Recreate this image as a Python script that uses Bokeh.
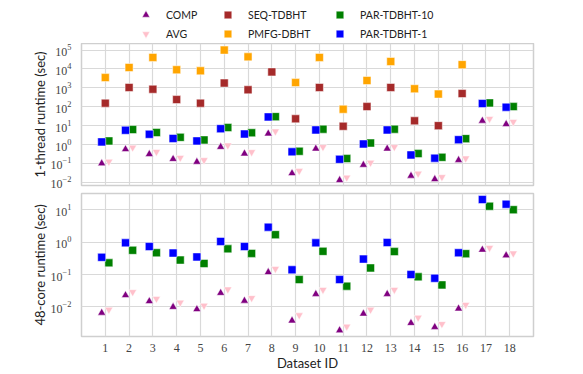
from bokeh.plotting import figure
from bokeh.layouts import column
from bokeh.models import (ColumnDataSource, Range1d, FixedTicker, LogTickFormatter,
                          Legend, LegendItem)
from bokeh.transform import dodge
from bokeh.embed import file_html
from bokeh.resources import INLINE

nan = float("nan")

dataset_ids = list(range(1, 19))

# 1-thread runtimes (sec)
comp_1t = [0.10, 0.56, 0.31, 0.17, 0.12, 0.74, 0.33, 3.8, 0.030, 0.60, 0.013, 0.083, 0.60, 0.022, 0.0145, 0.15, 18, 12]
avg_1t = [0.125, 0.70, 0.41, 0.20, 0.15, 0.90, 0.40, 5.0, 0.040, 0.74, 0.018, 0.11, 0.74, 0.029, 0.019, 0.185, 23, 16]
seq_tdbht_1t = [155, 1050, 850, 240, 155, 1800, 790, 7000, 23, 1050, 9.3, 102, 1050, 18, 10, 500, nan, nan]
pmfg_dbht_1t = [3500, 12000, 41000, 9100, 8000, 100000, 44000, nan, 1900, 41000, 74, 2450, 25000, 900, 470, 17000, nan, nan]
par_tdbht_10_1t = [1.55, 6.2, 4.3, 2.4, 1.75, 7.9, 4.2, 30, 0.44, 6.5, 0.18, 1.2, 6.5, 0.33, 0.21, 2.05, 160, 102]
par_tdbht_1_1t = [1.38, 5.7, 3.5, 2.1, 1.55, 6.9, 3.6, 29, 0.41, 5.9, 0.165, 1.07, 5.9, 0.28, 0.19, 1.8, 148, 95]

# 48-core runtimes (sec)
comp_48 = [0.0066, 0.023, 0.015, 0.010, 0.0085, 0.027, 0.0155, 0.118, 0.0038, 0.025, 0.0019, 0.0062, 0.025, 0.0032, 0.0024, 0.0089, 0.58, 0.39]
avg_48 = [0.0083, 0.029, 0.018, 0.0138, 0.011, 0.035, 0.019, 0.15, 0.0056, 0.034, 0.0025, 0.0083, 0.034, 0.0047, 0.0030, 0.0117, 0.67, 0.45]
par_tdbht_10_48 = [0.23, 0.56, 0.47, 0.28, 0.22, 0.62, 0.45, 1.7, 0.070, 0.52, 0.044, 0.16, 0.51, 0.085, 0.048, 0.44, 12.8, 10]
par_tdbht_1_48 = [0.34, 0.95, 0.73, 0.46, 0.35, 1.05, 0.73, 2.9, 0.14, 0.95, 0.070, 0.30, 0.97, 0.10, 0.077, 0.47, 20.6, 14.8]

top_ticks = [1e-2, 1e-1, 1e0, 1e1, 1e2, 1e3, 1e4, 1e5]
bottom_ticks = [1e-2, 1e-1, 1e0, 1e1]

series_names = ["COMP", "AVG", "SEQ-TDBHT", "PMFG-DBHT", "PAR-TDBHT-10", "PAR-TDBHT-1"]

src1 = ColumnDataSource(dict(id=dataset_ids, comp=comp_1t, avg=avg_1t, seq=seq_tdbht_1t,
                             pmfg=pmfg_dbht_1t, p10=par_tdbht_10_1t, p1=par_tdbht_1_1t))
src2 = ColumnDataSource(dict(id=dataset_ids, comp=comp_48, avg=avg_48,
                             p10=par_tdbht_10_48, p1=par_tdbht_1_48))

x_range = Range1d(0, 19)
TICK_FONT = "Liberation Serif"
LABEL_FONT = "Lato"
GRID = "#d9d9d9"
OUTLINE = "#cfcfcf"
LEFT = 81
RIGHT = 40

STYLES = {
    "comp": dict(marker="triangle", size=8, fill_color="purple"),
    "avg": dict(marker="inverted_triangle", size=8, fill_color="pink"),
    "seq": dict(marker="square", size=8, fill_color="brown"),
    "pmfg": dict(marker="square", size=8, fill_color="orange"),
    "p10": dict(marker="square", size=8, fill_color="green"),
    "p1": dict(marker="square", size=8, fill_color="blue"),
}
OFFSETS = {"comp": -0.15, "avg": 0.15, "seq": 0.0, "pmfg": 0.0, "p10": 0.15, "p1": -0.15}


def style(p, ticks, ylabel):
    p.outline_line_color = OUTLINE
    p.outline_line_width = 1.5
    p.background_fill_color = "white"
    p.border_fill_color = "white"
    p.xgrid.ticker = FixedTicker(ticks=dataset_ids)
    p.xgrid.grid_line_color = GRID
    p.ygrid.grid_line_color = GRID
    p.xgrid.grid_line_width = 1.2
    p.ygrid.grid_line_width = 1.2
    ya = p.yaxis[0]
    ya.ticker = FixedTicker(ticks=ticks)
    ya.formatter = LogTickFormatter()
    ya.axis_line_color = None
    ya.major_tick_line_color = None
    ya.minor_tick_line_color = None
    ya.major_label_text_font = TICK_FONT
    ya.major_label_text_font_size = "12px"
    ya.major_label_text_color = "#444444"
    ya.major_label_standoff = 4
    ya.axis_label = ylabel
    ya.axis_label_text_font = LABEL_FONT
    ya.axis_label_text_font_style = "normal"
    ya.axis_label_text_font_size = "13px"
    ya.axis_label_text_color = "#222222"
    ya.axis_label_standoff = 0


def markers(p, src, keys):
    for k in keys:
        p.scatter(dodge("id", OFFSETS[k], range=x_range), k, source=src,
                  line_color="white", line_width=0.5, **STYLES[k])


# ---- legend strip ----
lf = figure(frame_width=452, height=43, x_range=Range1d(0, 1), y_range=Range1d(0, 1),
            x_axis_location=None, y_axis_location=None, toolbar_location=None,
            output_backend="svg", min_border_left=LEFT, min_border_right=RIGHT,
            min_border_top=0, min_border_bottom=0)
lf.outline_line_color = None
lf.xgrid.visible = False
lf.ygrid.visible = False
legend_keys = ["comp", "avg", "seq", "pmfg", "p10", "p1"]
lrs = {}
for k in legend_keys:
    lrs[k] = lf.scatter([-5], [-5], line_color="white", line_width=0.5, **STYLES[k])

legend_groups = [(0, 1), (2, 3), (4, 5)]
legend_x = [55, 137, 249]
for grp, lx in zip(legend_groups, legend_x):
    lg = Legend(items=[LegendItem(label=series_names[i], renderers=[lrs[legend_keys[i]]]) for i in grp],
                orientation="vertical", location=(lx, 0))
    lg.border_line_color = None
    lg.background_fill_alpha = 0
    lg.label_text_font = LABEL_FONT
    lg.label_text_font_size = "10.5px"
    lg.label_text_color = "#222222"
    lg.glyph_width = 19
    lg.glyph_height = 19
    lg.label_height = 16
    lg.label_standoff = 11
    lg.spacing = -3
    lg.padding = 0
    lg.margin = 0
    lf.add_layout(lg)

# ---- 1-thread panel ----
p1 = figure(frame_width=452, frame_height=142, x_range=x_range,
            y_range=Range1d(10 ** -2.17, 10 ** 5.35), y_axis_type="log",
            x_axis_location=None, toolbar_location=None, output_backend="svg",
            min_border_left=LEFT, min_border_right=RIGHT, min_border_top=0, min_border_bottom=6)
style(p1, top_ticks, "1-thread runtime (sec)")
markers(p1, src1, ["comp", "avg", "seq", "pmfg", "p10", "p1"])

# ---- 48-core panel ----
p2 = figure(frame_width=452, frame_height=143, x_range=x_range,
            y_range=Range1d(10 ** -2.91, 10 ** 1.50), y_axis_type="log",
            toolbar_location=None, output_backend="svg",
            min_border_left=LEFT, min_border_right=RIGHT, min_border_top=2, min_border_bottom=2)
style(p2, bottom_ticks, "48-core runtime (sec)")
markers(p2, src2, ["comp", "avg", "p10", "p1"])
xa = p2.xaxis[0]
xa.ticker = FixedTicker(ticks=dataset_ids)
xa.axis_line_color = None
xa.major_tick_line_color = None
xa.minor_tick_line_color = None
xa.major_label_text_font = TICK_FONT
xa.major_label_text_font_size = "12px"
xa.major_label_text_color = "#444444"
xa.major_label_standoff = 1
xa.axis_label = "Dataset ID"
xa.axis_label_text_font = LABEL_FONT
xa.axis_label_text_font_style = "normal"
xa.axis_label_text_font_size = "13px"
xa.axis_label_text_color = "#222222"
xa.axis_label_standoff = 0

layout = column(lf, p1, p2, spacing=0)

open("out.html", "w").write(file_html(layout, INLINE))
